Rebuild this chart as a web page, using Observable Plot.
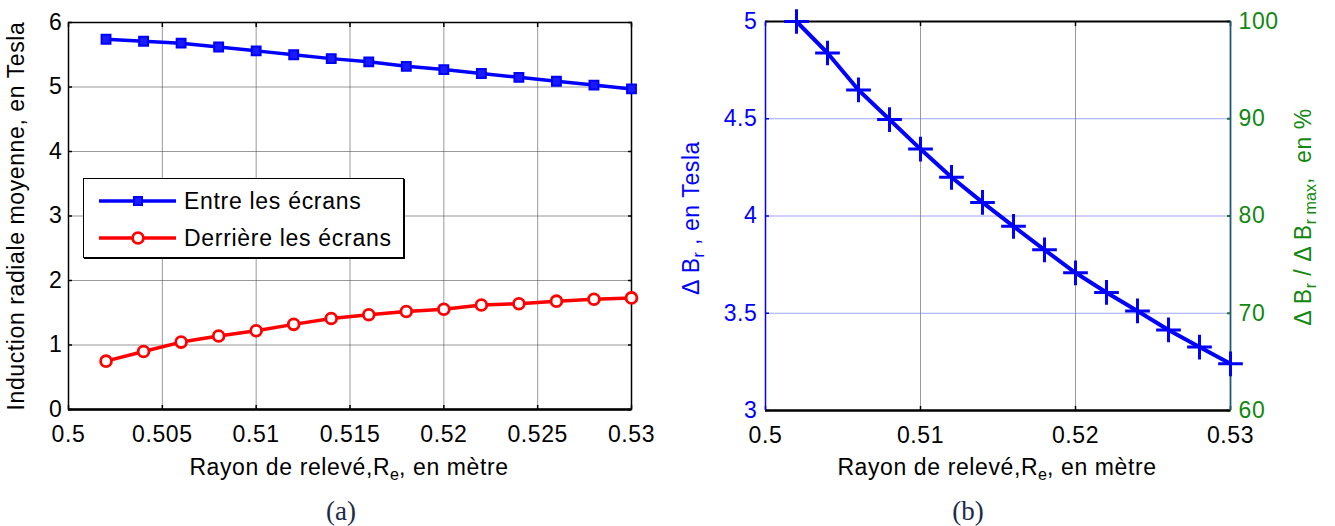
<!DOCTYPE html>
<html>
<head>
<meta charset="utf-8">
<script src="https://cdn.jsdelivr.net/npm/d3@7"></script>
<script src="https://cdn.jsdelivr.net/npm/@observablehq/plot@0.6"></script>
<style>
  html, body { margin: 0; padding: 0; background: #fff; }
  #wrap { position: relative; width: 1335px; height: 526px; overflow: hidden; background: #fff; font-family: "Liberation Sans", Arial, sans-serif; }
  .panel { position: absolute; top: 0; }
  .lbl { position: absolute; white-space: nowrap; font-family: "Liberation Sans", Arial, sans-serif; font-size: 23px; line-height: 1; letter-spacing: 0.6px; }
  .lbl sub { font-size: 70%; vertical-align: -0.35em; line-height: 0; letter-spacing: 0; }
  .rot { transform: translate(-50%, -50%) rotate(-90deg); }
  .hc { transform: translate(-50%, -50%); }
  .cap { position: absolute; font-family: "Liberation Serif", "Times New Roman", serif; font-size: 27px; color: #1c2a48; transform: translate(-50%, -50%); }
  #legend { position: absolute; left: 83px; top: 178px; width: 319px; height: 78px; border: 1px solid #000; box-shadow: 1px 1px 0 #000; background: #fff; }
  .lrow { position: absolute; left: 0; height: 30px; }
  .lrow svg { position: absolute; left: 0; top: 0; }
  .lrow span { position: absolute; left: 100px; top: 50%; transform: translateY(-50%); font-size: 23px; letter-spacing: 0.7px; white-space: nowrap; }
</style>
</head>
<body>
<div id="wrap"></div>
<script>
// ---------- data ----------
const radius = [0.502, 0.504, 0.506, 0.508, 0.510, 0.512, 0.514, 0.516, 0.518, 0.520, 0.522, 0.524, 0.526, 0.528, 0.530];
const entreEcrans = [5.74, 5.71, 5.68, 5.62, 5.56, 5.50, 5.44, 5.39, 5.32, 5.27, 5.21, 5.15, 5.09, 5.03, 4.97];
const derriereEcrans = [0.75, 0.90, 1.045, 1.14, 1.22, 1.32, 1.41, 1.47, 1.52, 1.555, 1.62, 1.64, 1.68, 1.71, 1.73];
const deltaBr = [5.00, 4.838, 4.648, 4.496, 4.344, 4.199, 4.07, 3.947, 3.826, 3.708, 3.607, 3.512, 3.414, 3.326, 3.24];

const seriesNames = ["Entre les écrans", "Derrière les écrans"];
const xTicksA = [0.5, 0.505, 0.51, 0.515, 0.52, 0.525, 0.53];
const yTicksA = [0, 1, 2, 3, 4, 5, 6];
const xTicksB = [0.5, 0.51, 0.52, 0.53];
const yTicksB = [3, 3.5, 4, 4.5, 5];
const pctTicks = [60, 70, 80, 90, 100];

const xLabel = "Rayon de relevé,R<sub>e</sub>, en mètre";
const yLabelA = "Induction radiale moyenne, en Tesla";
const yLabelB = "Δ B<sub>r</sub> ,&nbsp;en Tesla";
const yLabelB2 = "Δ B<sub>r</sub> / Δ B<sub>r max</sub>,&nbsp; en %";

// ---------- tables ----------
const tableA = radius.map((r, i) => ({r, entre: entreEcrans[i], derr: derriereEcrans[i]}));
const tableB = radius.map((r, i) => ({r, d: deltaBr[i]}));
const dMax = d3.max(deltaBr);
const pctAsTesla = pctTicks.map(p => p / 100 * dMax);

const wrap = document.getElementById("wrap");
const FONT = "Liberation Sans, Arial, sans-serif";
const FS = 23;
const tickStyle = {fontFamily: FONT, fontSize: FS + "px", letterSpacing: "0.6px", color: "#000", background: "transparent", overflow: "visible"};

// ---------- panel (a) ----------
const plotA = Plot.plot({
  width: 660, height: 450,
  marginLeft: 68, marginRight: 29, marginTop: 22, marginBottom: 41,
  x: {domain: [0.5, 0.53]},
  y: {domain: [0, 6]},
  style: tickStyle,
  marks: [
    Plot.gridX(xTicksA, {stroke: "#555", strokeOpacity: 0.6, strokeWidth: 1}),
    Plot.gridY(yTicksA, {stroke: "#555", strokeOpacity: 0.6, strokeWidth: 1}),
    Plot.axisX(xTicksA, {anchor: "bottom", tickSize: -4, fill: "none", label: null, strokeWidth: 1.5}),
    Plot.axisX(xTicksA, {anchor: "top", tickSize: -4, fill: "none", label: null, strokeWidth: 1.5}),
    Plot.axisY(yTicksA, {anchor: "left", tickSize: -4, fill: "none", label: null, strokeWidth: 1.5}),
    Plot.axisY(yTicksA, {anchor: "right", tickSize: -4, fill: "none", label: null, strokeWidth: 1.5}),
    Plot.axisX(xTicksA, {anchor: "bottom", tickSize: 0, tickPadding: 16, fontSize: FS, tickFormat: d => String(d), label: null, fill: "#000"}),
    Plot.axisY(yTicksA, {anchor: "left", tickSize: 0, tickPadding: 6, fontSize: FS, tickFormat: d => String(d), label: null, fill: "#000"}),
    Plot.frame({stroke: "#000", strokeWidth: 1.5}),
    Plot.ruleY([0], {stroke: "#000", strokeWidth: 2.5}),
    Plot.lineY(tableA, {x: "r", y: "entre", stroke: "#0000ff", strokeWidth: 3.5}),
    Plot.dot(tableA, {x: "r", y: "entre", symbol: "square", r: 5, fill: "#1a1aff", stroke: "#0000ff", strokeWidth: 2}),
    Plot.lineY(tableA, {x: "r", y: "derr", stroke: "#ff0000", strokeWidth: 3.5}),
    Plot.dot(tableA, {x: "r", y: "derr", symbol: "circle", r: 5.4, fill: "#fff", stroke: "#ff0000", strokeWidth: 2.8})
  ]
});
plotA.classList.add("panel");
plotA.style.left = "0px";
wrap.appendChild(plotA);

// ---------- panel (b) ----------
const plotB = Plot.plot({
  width: 655, height: 450,
  marginLeft: 85, marginRight: 105, marginTop: 21, marginBottom: 40,
  x: {domain: [0.5, 0.53]},
  y: {domain: [3, 5]},
  style: tickStyle,
  marks: [
    Plot.gridX(xTicksB.slice(1, -1), {stroke: "#555", strokeOpacity: 0.6, strokeWidth: 1}),
    Plot.gridY(yTicksB.slice(1, -1), {stroke: "#7f86ff", strokeOpacity: 0.75, strokeWidth: 1}),
    Plot.axisX(xTicksB, {anchor: "bottom", tickSize: -4, fill: "none", label: null, strokeWidth: 1.5}),
    Plot.axisX(xTicksB, {anchor: "top", tickSize: -4, fill: "none", label: null, strokeWidth: 1.5}),
    Plot.axisY(yTicksB, {anchor: "left", tickSize: -4, fill: "none", label: null, stroke: "#0000ff", strokeWidth: 1.5}),
    Plot.axisY(pctAsTesla, {anchor: "right", tickSize: -4, fill: "none", label: null, stroke: "#1a7a1a", strokeWidth: 2}),
    Plot.axisX(xTicksB, {anchor: "bottom", tickSize: 0, tickPadding: 16, fontSize: FS, tickFormat: d => String(d), label: null, fill: "#000"}),
    Plot.axisY(yTicksB, {anchor: "left", tickSize: 0, tickPadding: 8, fontSize: FS, tickFormat: d => String(d), label: null, fill: "#0000ff"}),
    Plot.axisY(pctAsTesla, {anchor: "right", tickSize: 0, tickPadding: 8, fontSize: FS, tickFormat: (d, i) => String(pctTicks[i]), label: null, fill: "#118811"}),
    Plot.ruleY([3], {stroke: "#000", strokeWidth: 2.5}),
    Plot.ruleY([5], {stroke: "#000", strokeWidth: 2}),
    Plot.ruleX([0.5], {stroke: "#0000ff", strokeWidth: 1.5}),
    Plot.ruleX([0.53], {stroke: "#1f5a78", strokeWidth: 1.8}),
    Plot.lineY(tableB, {x: "r", y: "d", stroke: "#0000ff", strokeWidth: 4}),
    Plot.dot(tableB, {x: "r", y: "d", symbol: "plus", r: 8, stroke: "#0000ff", strokeWidth: 3})
  ]
});
plotB.classList.add("panel");
plotB.style.left = "680px";
wrap.appendChild(plotB);

// ---------- text labels ----------
function addLabel(html, x, y, cls, color) {
  const d = document.createElement("div");
  d.className = "lbl " + cls;
  d.innerHTML = html;
  d.style.left = x + "px";
  d.style.top = y + "px";
  if (color) d.style.color = color;
  wrap.appendChild(d);
}
addLabel(xLabel, 349, 467, "hc", "#000");
addLabel(xLabel, 997, 467, "hc", "#000");
addLabel(yLabelA, 16, 216, "rot", "#000");
addLabel(yLabelB, 691, 218, "rot", "#0000ff");
addLabel(yLabelB2, 1303, 217, "rot", "#118811");

const capA = document.createElement("div");
capA.className = "cap"; capA.textContent = "(a)"; capA.style.left = "341px"; capA.style.top = "511px";
wrap.appendChild(capA);
const capB = document.createElement("div");
capB.className = "cap"; capB.textContent = "(b)"; capB.style.left = "968px"; capB.style.top = "511px";
wrap.appendChild(capB);

// ---------- legend ----------
const legend = document.createElement("div");
legend.id = "legend";
const legendStyles = [
  {color: "#0000ff", symbol: "square"},
  {color: "#ff0000", symbol: "circle"}
];
seriesNames.forEach((name, i) => {
  const row = document.createElement("div");
  row.className = "lrow";
  row.style.top = (i === 0 ? 7 : 44) + "px";
  row.style.width = "319px";
  const st = legendStyles[i];
  const marker = st.symbol === "square"
    ? `<rect x="50" y="11" width="8" height="8" fill="#1a1aff" stroke="${st.color}" stroke-width="2"/>`
    : `<circle cx="54" cy="15" r="5.4" fill="#fff" stroke="${st.color}" stroke-width="2.8"/>`;
  row.innerHTML = `<svg width="100" height="30"><line x1="15" y1="15" x2="92" y2="15" stroke="${st.color}" stroke-width="3.5"/>${marker}</svg><span>${name}</span>`;
  legend.appendChild(row);
});
wrap.appendChild(legend);
</script>
</body>
</html>
